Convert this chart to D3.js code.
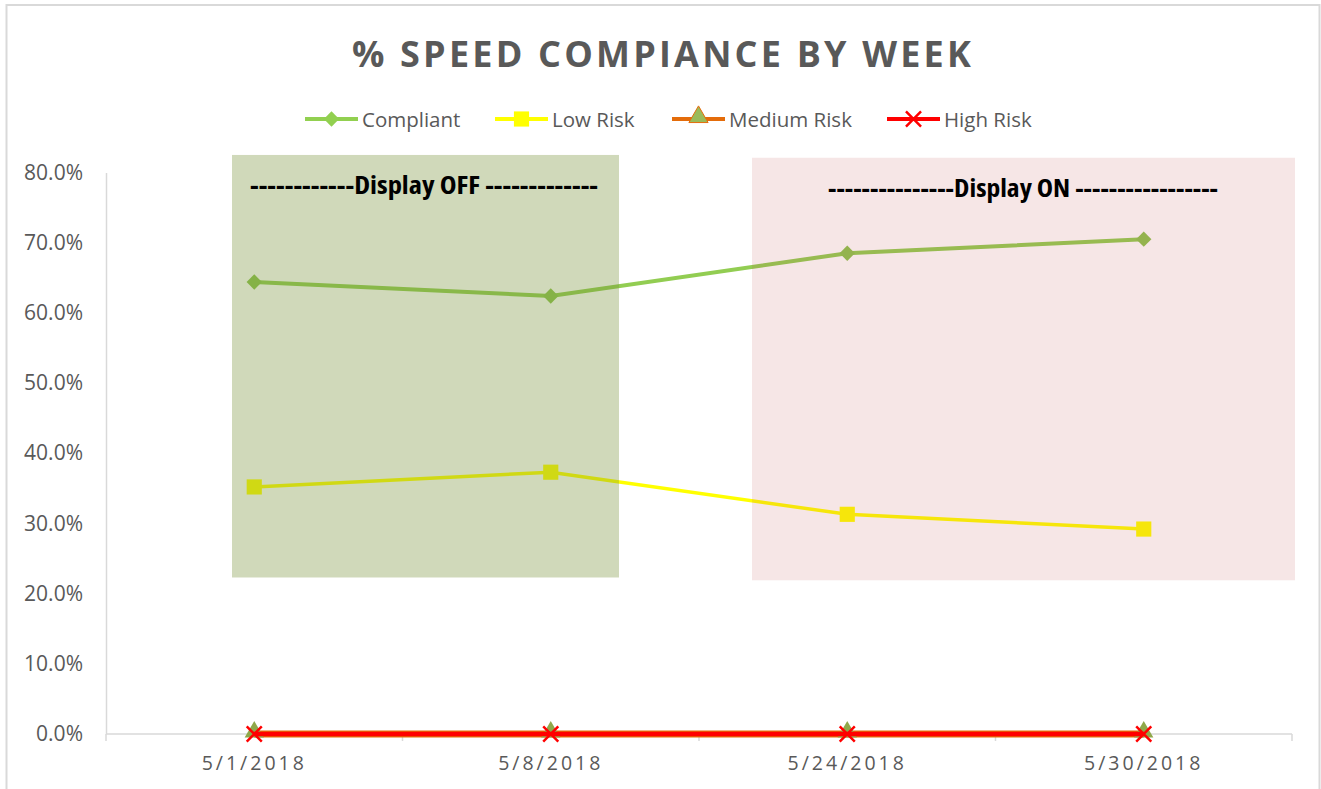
<!DOCTYPE html>
<html>
<head>
<meta charset="utf-8">
<script src="https://cdn.jsdelivr.net/npm/d3@7"></script>
<style>
  body { margin: 0; background: #fff; }
  text { font-family: 'Open Sans', 'Noto Sans', sans-serif; }
</style>
</head>
<body>
<svg id="chart" width="1321" height="789"></svg>
<script>
// ---- data ----
const weeks = ['5/1/2018', '5/8/2018', '5/24/2018', '5/30/2018']
const compliant = [0.644, 0.624, 0.685, 0.705]
const lowRisk = [0.352, 0.373, 0.313, 0.292]
const mediumRisk = [0, 0, 0, 0]
const highRisk = [0, 0, 0, 0]
const yTicks = [0, 0.1, 0.2, 0.3, 0.4, 0.5, 0.6, 0.7, 0.8]
const seriesNames = ['Compliant', 'Low Risk', 'Medium Risk', 'High Risk']
// annotation boxes: label and the value range they cover
const offBox = { label: '------------Display OFF -------------', lo: 0.223, hi: 0.825 }
const onBox = { label: '---------------Display ON -----------------', lo: 0.219, hi: 0.821 }

const svg = d3.select('#chart')
const plot = { left: 106, right: 1292, top: 172.5, bottom: 734 }

const x = d3.scaleBand().domain(weeks).range([plot.left, plot.right])
const xc = d => x(d) + x.bandwidth() / 2
const y = d3.scaleLinear().domain([0, 0.8]).range([plot.bottom, plot.top])

/**
 * Outer frame of the chart area (cut off by the picture edges).
 */
function drawFrame () {
  svg.append('rect')
    .attr('x', 6.5).attr('y', 5)
    .attr('width', 1313).attr('height', 800)
    .attr('fill', 'none')
    .attr('stroke', '#d9d9d9')
    .attr('stroke-width', 2)
}

function drawTitle () {
  svg.append('text')
    .attr('x', 663).attr('y', 67)
    .attr('text-anchor', 'middle')
    .attr('font-size', 36)
    .attr('font-weight', 'bold')
    .attr('letter-spacing', 3.2)
    .attr('fill', '#595959')
    .text('% SPEED COMPIANCE BY WEEK')
}

function drawAxes () {
  const yAxis = svg.append('g')
    .attr('transform', 'translate(' + plot.left + ',0)')
    .call(d3.axisLeft(y).tickValues(yTicks).tickFormat(d3.format('.1%')).tickSize(0).tickPadding(23))
  yAxis.select('.domain').attr('stroke', '#d9d9d9').attr('stroke-width', 1.5)
  yAxis.selectAll('text').attr('font-size', 21).attr('fill', '#595959')
    .attr('font-family', "'Open Sans', sans-serif")

  const xAxis = svg.append('g')
    .attr('transform', 'translate(0,' + plot.bottom + ')')
  xAxis.append('line')
    .attr('x1', plot.left).attr('x2', plot.right)
    .attr('stroke', '#d9d9d9').attr('stroke-width', 1.5)
  xAxis.selectAll('.tick-mark')
    .data(weeks.concat([null]))
    .enter().append('line')
    .attr('x1', d => d === null ? plot.right : x(d))
    .attr('x2', d => d === null ? plot.right : x(d))
    .attr('y1', 0).attr('y2', 7)
    .attr('stroke', '#d9d9d9').attr('stroke-width', 1.5)
  xAxis.selectAll('.lbl')
    .data(weeks)
    .enter().append('text')
    .attr('x', d => xc(d))
    .attr('y', 36)
    .attr('text-anchor', 'middle')
    .attr('font-size', 19.5)
    .attr('letter-spacing', 3)
    .attr('fill', '#595959')
    .text(d => d)
}

const diamond = d3.symbol().type(d3.symbolDiamond2).size(150)
const square = d3.symbol().type(d3.symbolSquare).size(230)
const triangle = d3.symbol().type(d3.symbolTriangle).size(160)
const cross = d3.symbol().type(d3.symbolX).size(150)

function drawSeries () {
  const line = d3.line().x((d, i) => xc(weeks[i])).y(d => y(d))

  svg.append('path').datum(compliant).attr('d', line)
    .attr('fill', 'none').attr('stroke', '#92cd52').attr('stroke-width', 4)
  svg.selectAll('.cmp').data(compliant).enter().append('path')
    .attr('transform', (d, i) => 'translate(' + xc(weeks[i]) + ',' + y(d) + ')')
    .attr('d', diamond).attr('fill', '#8dc44f')

  svg.append('path').datum(lowRisk).attr('d', line)
    .attr('fill', 'none').attr('stroke', '#ffff00').attr('stroke-width', 3.5)
  svg.selectAll('.low').data(lowRisk).enter().append('path')
    .attr('transform', (d, i) => 'translate(' + xc(weeks[i]) + ',' + y(d) + ')')
    .attr('d', square).attr('fill', '#ffff00')

  svg.append('path').datum(mediumRisk).attr('d', line)
    .attr('fill', 'none').attr('stroke', '#e46c0a').attr('stroke-width', 7)
  svg.selectAll('.med').data(mediumRisk).enter().append('path')
    .attr('transform', (d, i) => 'translate(' + xc(weeks[i]) + ',' + (y(d) - 2) + ')')
    .attr('d', triangle).attr('fill', '#8fa84a')

  svg.append('path').datum(highRisk).attr('d', line)
    .attr('fill', 'none').attr('stroke', '#ff0000').attr('stroke-width', 4.5)
  svg.selectAll('.high').data(highRisk).enter().append('path')
    .attr('transform', (d, i) => 'translate(' + xc(weeks[i]) + ',' + y(d) + ')')
    .attr('d', cross).attr('fill', 'none')
    .attr('stroke', '#ff0000').attr('stroke-width', 2.5)
}

/**
 * Shaded boxes over the two periods, with their labels.
 */
function drawBoxes () {
  const boxes = [
    { box: offBox, fill: 'rgb(121,146,58)', opacity: 0.35, x0: 232, x1: 619, tx: 424, tw: 348 },
    { box: onBox, fill: 'rgb(192,80,77)', opacity: 0.14, x0: 752, x1: 1295, tx: 1023, tw: 390 }
  ]
  boxes.forEach(b => {
    svg.append('rect')
      .attr('x', b.x0).attr('y', y(b.box.hi))
      .attr('width', b.x1 - b.x0).attr('height', y(b.box.lo) - y(b.box.hi))
      .attr('fill', b.fill).attr('fill-opacity', b.opacity)
    svg.append('text')
      .attr('x', b.tx)
      .attr('y', y(b.box.hi) + 39)
      .attr('text-anchor', 'middle')
      .attr('font-family', "'Liberation Sans Narrow', 'Arial Narrow', 'Liberation Sans', sans-serif")
      .attr('font-stretch', 'condensed')
      .attr('font-weight', 'bold')
      .attr('font-size', 24)
      .attr('textLength', b.tw)
      .attr('lengthAdjust', 'spacingAndGlyphs')
      .attr('fill', '#000')
      .text(b.box.label)
  })
}

function drawLegend () {
  const items = [
    { name: seriesNames[0], x: 305, stroke: '#92d050', sym: diamond, fill: '#92d050' },
    { name: seriesNames[1], x: 495, stroke: '#ffff00', sym: square, fill: '#ffff00' },
    { name: seriesNames[2], x: 672, stroke: '#e46c0a', sym: triangle, fill: '#9bbb59' },
    { name: seriesNames[3], x: 887, stroke: '#ff0000', sym: cross, fill: 'none' }
  ]
  const g = svg.append('g').attr('transform', 'translate(0,119)')
  items.forEach(it => {
    g.append('line').attr('x1', it.x).attr('x2', it.x + 53)
      .attr('stroke', it.stroke).attr('stroke-width', 4)
    g.append('path').attr('transform', 'translate(' + (it.x + 26.5) + ',' + (it.sym === triangle ? -2 : 0) + ')')
      .attr('d', it.sym).attr('fill', it.fill)
      .attr('stroke', it.sym === triangle ? '#e46c0a' : (it.sym === cross ? '#ff0000' : 'none'))
      .attr('stroke-width', it.sym === cross ? 2.5 : 1)
    g.append('text').attr('x', it.x + 57).attr('y', 7.5)
      .attr('font-size', 20.5).attr('fill', '#595959')
      .text(it.name)
  })
}

drawFrame()
drawTitle()
drawLegend()
drawAxes()
drawSeries()
drawBoxes()
</script>
</body>
</html>
